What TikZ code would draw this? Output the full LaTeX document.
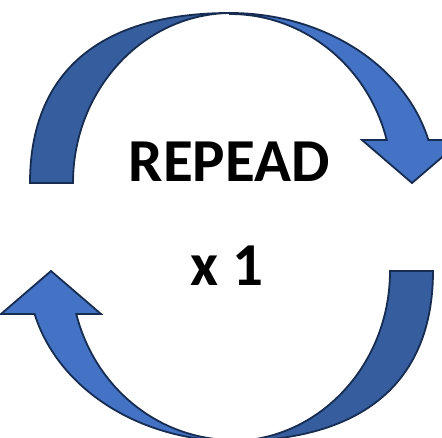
\documentclass[tikz,border=0pt]{standalone}
\usepackage{fontspec}
\setmainfont{Carlito}
\usepackage{tikz}
\usetikzlibrary{positioning}
\usepackage{xcolor}
\definecolor{frontblue}{RGB}{68,114,196}
\definecolor{backblue}{RGB}{54,94,158}
\definecolor{rimnavy}{RGB}{23,44,81}

\tikzset{
  arrowfront/.style={fill=frontblue,draw=rimnavy,line width=1.8pt,line join=miter},
  arrowback/.style={fill=backblue,draw=rimnavy,line width=1.8pt,line join=miter},
  bigword/.style={font=\fontsize{61}{72}\selectfont\bfseries,text=black,inner sep=0pt,anchor=base}
}

\begin{document}
\begin{tikzpicture}[x=1pt,y=-1pt]
        \clip (0,0) rectangle (442,437);
        \fill[white] (0,0) rectangle (442,437);
        % the two bent arrows, the lower one is the upper one turned round
        \foreach \turn in {0,180}{
          \begin{scope}[rotate around={\turn:(231.5,227)}]
            \draw[arrowback]
              (30,183) .. controls (30,72) and (100,13) .. (230,13)
              .. controls (143.3,14) and (73,89.7) .. (73,183) -- cycle;
            \draw[arrowfront]
              (230,13) .. controls (323.3,13) and (404.9,65.1) .. (428.4,140)
              -- (462,140) -- (412,183) -- (362,140) -- (386.7,140)
              .. controls (368,65.8) and (303.5,14) .. (230,14) -- cycle;
          \end{scope}
        }
        \node[bigword] (repeattext) at (229.2,181.7) {REPEAD};
        \node[bigword] (timestext) at (227.3,285.7) {x 1};
      \end{tikzpicture}
\end{document}
